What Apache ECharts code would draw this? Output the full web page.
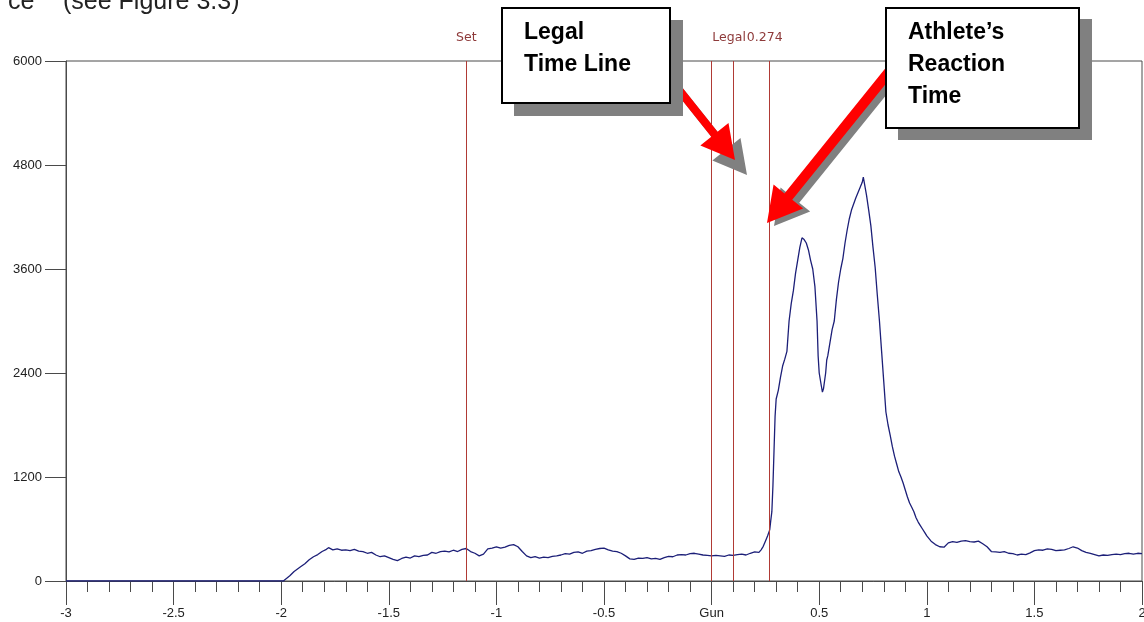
<!DOCTYPE html>
<html>
<head>
<meta charset="utf-8">
<script src="https://cdn.jsdelivr.net/npm/echarts@6/dist/echarts.min.js"></script>
<style>
html,body{margin:0;padding:0;background:#fff;overflow:hidden;}
#chart{width:1144px;height:622px;}
</style>
</head>
<body>
<div id="chart"></div>
<script>
// ---- data (time in s, force) ----
var times = [
-3.00,-2.50,-2.00,-1.99,-1.96,-1.94,-1.91,-1.89,-1.87,-1.85,-1.83,-1.81,-1.79,-1.78,-1.76,-1.74,-1.72,-1.70,-1.68,-1.66,
-1.64,-1.62,-1.60,-1.58,-1.56,-1.54,-1.52,-1.50,-1.48,-1.46,-1.44,-1.42,-1.40,-1.38,-1.36,-1.34,-1.32,-1.30,-1.28,-1.26,
-1.24,-1.22,-1.20,-1.18,-1.16,-1.14,-1.12,-1.10,-1.08,-1.06,-1.04,-1.02,-1.00,-0.98,-0.96,-0.94,-0.92,-0.90,-0.88,-0.86,
-0.84,-0.82,-0.80,-0.78,-0.76,-0.74,-0.72,-0.70,-0.68,-0.66,-0.64,-0.62,-0.60,-0.58,-0.56,-0.54,-0.52,-0.50,-0.48,-0.46,
-0.44,-0.42,-0.40,-0.38,-0.36,-0.34,-0.32,-0.30,-0.28,-0.26,-0.24,-0.22,-0.20,-0.18,-0.16,-0.14,-0.12,-0.10,-0.08,-0.06,
-0.04,-0.02,0.00,0.02,0.04,0.06,0.08,0.10,0.12,0.14,0.16,0.18,0.20,0.22,0.23,0.24,0.25,0.26,0.27,0.275,
0.28,0.285,0.29,0.295,0.30,0.31,0.32,0.33,0.34,0.35,0.36,0.37,0.38,0.39,0.40,0.41,0.42,0.43,0.44,0.45,
0.46,0.47,0.48,0.49,0.495,0.50,0.51,0.515,0.52,0.53,0.535,0.54,0.55,0.56,0.57,0.58,0.59,0.60,0.61,0.62,
0.63,0.64,0.65,0.66,0.67,0.68,0.69,0.70,0.705,0.71,0.72,0.73,0.74,0.75,0.76,0.77,0.78,0.79,0.80,0.81,
0.82,0.83,0.84,0.85,0.86,0.87,0.88,0.89,0.90,0.91,0.92,0.93,0.94,0.95,0.96,0.97,0.98,0.99,1.00,1.02,
1.04,1.06,1.08,1.10,1.12,1.14,1.16,1.18,1.20,1.22,1.24,1.26,1.28,1.30,1.32,1.34,1.36,1.38,1.40,1.42,
1.44,1.46,1.48,1.50,1.52,1.54,1.56,1.58,1.60,1.62,1.64,1.66,1.68,1.70,1.72,1.74,1.76,1.78,1.80,1.82,
1.84,1.86,1.88,1.90,1.92,1.94,1.96,1.98,2.00
];
var force = [
0,0,0,0,60,110,165,200,245,280,305,340,365,385,360,370,355,360,350,365,
345,340,320,330,300,280,290,270,250,235,260,275,265,290,280,295,300,330,320,340,
345,335,355,340,365,375,340,320,290,310,370,380,395,380,390,410,420,395,340,290,
270,280,265,275,270,285,290,300,315,310,330,335,320,345,350,365,375,380,360,345,
340,320,290,255,250,265,260,270,255,260,250,270,285,280,300,305,300,315,320,310,
300,295,290,295,290,285,300,295,305,310,300,320,335,330,360,400,460,520,590,700,
800,1100,1500,1900,2100,2200,2350,2480,2560,2650,3000,3200,3350,3550,3700,3850,3960,3940,3900,3820,
3700,3600,3400,3000,2600,2400,2250,2180,2220,2400,2550,2600,2750,2900,3000,3250,3450,3600,3720,3900,
4050,4180,4280,4350,4420,4480,4540,4600,4660,4640,4450,4280,4100,3850,3620,3300,3000,2650,2300,1950,
1800,1680,1550,1440,1350,1260,1200,1130,1050,970,900,850,800,730,680,640,600,560,520,460,
420,395,390,440,455,445,460,465,455,450,460,430,395,340,335,330,340,320,315,300,
310,305,325,350,360,355,370,365,350,355,360,375,395,380,350,330,320,305,290,300,
295,305,310,305,315,320,310,320,315
];
var markerTimes = [-1.14, 0, 0.1, 0.274];
var markerNames = ['Set', '', 'Legal', '0.274'];
var yTicks = [0, 1200, 2400, 3600, 4800, 6000];
var xTickLabels = { '0': 'Gun' };

// ---- build ----
var seriesData = times.map(function (t, i) { return [t, force[i]]; });
var markOffsets = [[0, 0], [0, 0], [-4, 0], [-5, 0]];
var markData = markerTimes.map(function (t, i) {
  return { xAxis: t, label: { formatter: markerNames[i], offset: markOffsets[i] } };
});

function arrow(S, T, w, h, hw, dx, dy) {
  var vx = T[0] - S[0], vy = T[1] - S[1];
  var L = Math.sqrt(vx * vx + vy * vy);
  var d = [vx / L, vy / L], n = [-d[1], d[0]];
  var B = [T[0] - d[0] * h, T[1] - d[1] * h];
  var pts = [
    [S[0] + n[0] * w, S[1] + n[1] * w],
    [B[0] + n[0] * w, B[1] + n[1] * w],
    [B[0] + n[0] * hw, B[1] + n[1] * hw],
    [T[0], T[1]],
    [B[0] - n[0] * hw, B[1] - n[1] * hw],
    [B[0] - n[0] * w, B[1] - n[1] * w],
    [S[0] - n[0] * w, S[1] - n[1] * w]
  ];
  return pts.map(function (p) { return [p[0] + dx, p[1] + dy]; });
}
var a1 = { S: [660, 66], T: [735, 160], sh: [12, 15] };
var a2 = { S: [905, 52], T: [767, 223], sh: [7, 3] };

var chart = echarts.init(document.getElementById('chart'), null, { renderer: 'canvas' });
var labelFont = '"Liberation Sans", Arial, sans-serif';
var option = {
  animation: false,
  backgroundColor: '#ffffff',
  grid: { left: 66, right: 2, top: 61, bottom: 41, outerBoundsMode: 'none', containLabel: false, show: true, borderColor: '#4a4a4a', borderWidth: 1, backgroundColor: 'transparent' },
  xAxis: {
    type: 'value', min: -3, max: 2, interval: 0.5,
    axisLine: { show: true, onZero: false, lineStyle: { color: '#4a4a4a', width: 1 } },
    axisTick: { show: true, length: 24, lineStyle: { color: '#4a4a4a' } },
    minorTick: { show: true, splitNumber: 5, length: 11, lineStyle: { color: '#4a4a4a' } },
    splitLine: { show: false },
    axisLabel: {
      margin: 26, color: '#222', fontSize: 13, fontFamily: labelFont, hideOverlap: false,
      formatter: function (v) { var k = String(Math.round(v * 10) / 10); return xTickLabels[k] !== undefined ? xTickLabels[k] : k; }
    }
  },
  yAxis: {
    type: 'value', min: 0, max: 6000, interval: 1200,
    axisLine: { show: true, onZero: false, lineStyle: { color: '#4a4a4a', width: 1 } },
    axisTick: { show: true, length: 21, lineStyle: { color: '#4a4a4a' } },
    splitLine: { show: false },
    axisLabel: {
      margin: 24, color: '#222', fontSize: 13, fontFamily: labelFont,
      formatter: function (v) { return yTicks.indexOf(v) >= 0 ? String(v) : ''; }
    }
  },
  series: [{
    type: 'line',
    data: seriesData,
    showSymbol: false,
    symbol: 'none',
    lineStyle: { color: '#1c1f78', width: 1.3 },
    z: 3,
    markLine: {
      silent: true,
      symbol: ['none', 'none'],
      animation: false,
      lineStyle: { color: '#b03a35', width: 1, type: 'solid' },
      label: { show: true, position: 'end', distance: 17, color: '#8e3a3a', fontSize: 12.5, fontFamily: '"DejaVu Sans", Verdana, sans-serif' },
      data: markData
    }
  }],
  graphic: [
    { type: 'text', x: 8, y: -10, style: { text: 'ce', font: '25px "Liberation Sans", Arial, sans-serif', fill: '#222' } },
    { type: 'text', x: 63, y: -10, style: { text: '(see Figure 3.3)', font: '25px "Liberation Sans", Arial, sans-serif', fill: '#222' } },
    { type: 'polygon', shape: { points: arrow(a1.S, a1.T, 4, 33, 18, a1.sh[0], a1.sh[1]) }, style: { fill: '#808080' }, z: 10 },
    { type: 'polygon', shape: { points: arrow(a2.S, a2.T, 5, 34, 19, a2.sh[0], a2.sh[1]) }, style: { fill: '#808080' }, z: 10 },
    { type: 'polygon', shape: { points: arrow(a1.S, a1.T, 4, 33, 18, 0, 0) }, style: { fill: '#ff0000' }, z: 11 },
    { type: 'polygon', shape: { points: arrow(a2.S, a2.T, 5, 34, 19, 0, 0) }, style: { fill: '#ff0000' }, z: 11 },
    { type: 'rect', shape: { x: 514, y: 20, width: 169, height: 96 }, style: { fill: '#808080' }, z: 12 },
    { type: 'rect', shape: { x: 502, y: 8, width: 168, height: 95 }, style: { fill: '#ffffff', stroke: '#000', lineWidth: 2 }, z: 13 },
    { type: 'text', x: 524, y: 17, style: { text: 'Legal\nTime Line', font: 'bold 23px "Liberation Sans", Arial, sans-serif', fill: '#000', lineHeight: 32 }, z: 14 },
    { type: 'rect', shape: { x: 898, y: 19, width: 194, height: 121 }, style: { fill: '#808080' }, z: 12 },
    { type: 'rect', shape: { x: 886, y: 8, width: 193, height: 120 }, style: { fill: '#ffffff', stroke: '#000', lineWidth: 2 }, z: 13 },
    { type: 'text', x: 908, y: 17, style: { text: 'Athlete\u2019s\nReaction\nTime', font: 'bold 23px "Liberation Sans", Arial, sans-serif', fill: '#000', lineHeight: 32 }, z: 14 }
  ]
};
chart.setOption(option);
</script>
</body>
</html>
